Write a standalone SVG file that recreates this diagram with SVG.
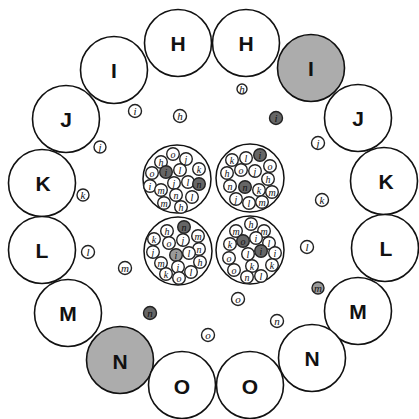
<svg xmlns="http://www.w3.org/2000/svg" width="419" height="419" viewBox="0 0 419 419">
<style>
.big{fill:#fff;stroke:#111;stroke-width:1.6}
.big.gray{fill:#acacac}
.lbl{font-family:"Liberation Sans",Arial,sans-serif;font-weight:bold;font-size:21px;text-anchor:middle;dominant-baseline:central;fill:#111}
.s circle{fill:#fff;stroke:#222;stroke-width:1.4}
.s.d circle{fill:#666}
.s.g circle{fill:#9a9a9a}
.s text{font-family:"Liberation Serif","Times New Roman",serif;font-style:italic;font-size:10px;text-anchor:middle;dominant-baseline:central;fill:#111}
.c{fill:#fff;stroke:#111;stroke-width:1.5}
.o text{font-size:11px}
</style>
<rect width="419" height="419" fill="#fff"/>
<g id="ring">
<g id="H1"><circle class="big" cx="178" cy="43" r="33.5"/><text class="lbl" x="178" y="43">H</text></g>
<g id="H2"><circle class="big" cx="246" cy="43" r="33.5"/><text class="lbl" x="246" y="43">H</text></g>
<g id="I1"><circle class="big" cx="114" cy="70" r="33.5"/><text class="lbl" x="114" y="70">I</text></g>
<g id="I2"><circle class="big gray" cx="311" cy="68" r="33.5"/><text class="lbl" x="311" y="68">I</text></g>
<g id="J1"><circle class="big" cx="66" cy="119" r="33.5"/><text class="lbl" x="66" y="119">J</text></g>
<g id="J2"><circle class="big" cx="358" cy="118" r="33.5"/><text class="lbl" x="358" y="118">J</text></g>
<g id="K1"><circle class="big" cx="42" cy="183" r="33.5"/><text class="lbl" x="43" y="183">K</text></g>
<g id="K2"><circle class="big" cx="384" cy="181" r="33.5"/><text class="lbl" x="386" y="181">K</text></g>
<g id="L1"><circle class="big" cx="42" cy="250" r="33.5"/><text class="lbl" x="42" y="250">L</text></g>
<g id="L2"><circle class="big" cx="385" cy="248" r="33.5"/><text class="lbl" x="386" y="248">L</text></g>
<g id="M1"><circle class="big" cx="68" cy="313" r="33.5"/><text class="lbl" x="68" y="313">M</text></g>
<g id="M2"><circle class="big" cx="358" cy="311" r="33.5"/><text class="lbl" x="358" y="311">M</text></g>
<g id="N1"><circle class="big gray" cx="120" cy="360" r="33.5"/><text class="lbl" x="120" y="361">N</text></g>
<g id="N2"><circle class="big" cx="312" cy="358" r="33.5"/><text class="lbl" x="312" y="358">N</text></g>
<g id="O1"><circle class="big" cx="182" cy="385" r="33.5"/><text class="lbl" x="182" y="386">O</text></g>
<g id="O2"><circle class="big" cx="250" cy="385" r="33.5"/><text class="lbl" x="250" y="386">O</text></g>
</g>
<g id="loose" class="o">
<g class="s" transform="translate(242,89)"><circle r="5"/><text>h</text></g>
<g class="s" transform="translate(135,111)"><circle r="6.5"/><text>i</text></g>
<g class="s" transform="translate(180,116)"><circle r="6.5"/><text>h</text></g>
<g class="s d" transform="translate(276,118)"><circle r="6.5"/><text>i</text></g>
<g class="s" transform="translate(100,147)"><circle r="6"/><text>j</text></g>
<g class="s" transform="translate(318,143)"><circle r="6.5"/><text>j</text></g>
<g class="s" transform="translate(83,195)"><circle r="6"/><text>k</text></g>
<g class="s" transform="translate(322,200)"><circle r="6.5"/><text>k</text></g>
<g class="s" transform="translate(88,252)"><circle r="6.5"/><text>l</text></g>
<g class="s" transform="translate(307,247)"><circle r="6.5"/><text>l</text></g>
<g class="s" transform="translate(125,268)"><circle r="6.5"/><text>m</text></g>
<g class="s g" transform="translate(318,288)"><circle r="6"/><text>m</text></g>
<g class="s d" transform="translate(150,313)"><circle r="6.5"/><text>n</text></g>
<g class="s" transform="translate(238,299)"><circle r="6.5"/><text>o</text></g>
<g class="s" transform="translate(277,321)"><circle r="6.5"/><text>n</text></g>
<g class="s" transform="translate(208,335)"><circle r="6.5"/><text>o</text></g>
</g>
<g id="clusterTL">
<circle class="c" cx="177" cy="179" r="34"/>
<g class="s" transform="translate(173,154)"><circle r="6.3"/><text>o</text></g>
<g class="s" transform="translate(161,162)"><circle r="6.3"/><text>h</text></g>
<g class="s" transform="translate(186,159)"><circle r="6.3"/><text>j</text></g>
<g class="s" transform="translate(199,169)"><circle r="6.3"/><text>k</text></g>
<g class="s" transform="translate(152,173)"><circle r="6.3"/><text>o</text></g>
<g class="s d" transform="translate(166,172)"><circle r="6.3"/><text>i</text></g>
<g class="s" transform="translate(180,170)"><circle r="6.3"/><text>l</text></g>
<g class="s" transform="translate(188,182)"><circle r="6.3"/><text>l</text></g>
<g class="s d" transform="translate(199,184)"><circle r="6.3"/><text>n</text></g>
<g class="s" transform="translate(150,186)"><circle r="6.3"/><text>i</text></g>
<g class="s" transform="translate(174,183)"><circle r="6.3"/><text>j</text></g>
<g class="s" transform="translate(161,190)"><circle r="6.3"/><text>m</text></g>
<g class="s" transform="translate(176,195)"><circle r="6.3"/><text>n</text></g>
<g class="s" transform="translate(192,197)"><circle r="6.3"/><text>l</text></g>
<g class="s" transform="translate(164,203)"><circle r="6.3"/><text>m</text></g>
<g class="s" transform="translate(181,207)"><circle r="6.3"/><text>h</text></g>
</g>
<g id="clusterTR">
<circle class="c" cx="250" cy="178" r="34"/>
<g class="s" transform="translate(232,160)"><circle r="6.3"/><text>k</text></g>
<g class="s" transform="translate(246,158)"><circle r="6.3"/><text>l</text></g>
<g class="s d" transform="translate(260,155)"><circle r="6.3"/><text>i</text></g>
<g class="s" transform="translate(270,166)"><circle r="6.3"/><text>o</text></g>
<g class="s" transform="translate(227,173)"><circle r="6.3"/><text>h</text></g>
<g class="s" transform="translate(241,170)"><circle r="6.3"/><text>o</text></g>
<g class="s" transform="translate(255,171)"><circle r="6.3"/><text>j</text></g>
<g class="s" transform="translate(268,179)"><circle r="6.3"/><text>h</text></g>
<g class="s" transform="translate(230,186)"><circle r="6.3"/><text>n</text></g>
<g class="s d" transform="translate(245,187)"><circle r="6.3"/><text>n</text></g>
<g class="s" transform="translate(259,190)"><circle r="6.3"/><text>k</text></g>
<g class="s" transform="translate(272,192)"><circle r="6.3"/><text>m</text></g>
<g class="s" transform="translate(236,199)"><circle r="6.3"/><text>j</text></g>
<g class="s" transform="translate(249,203)"><circle r="6.3"/><text>l</text></g>
<g class="s" transform="translate(262,202)"><circle r="6.3"/><text>m</text></g>
</g>
<g id="clusterBL">
<circle class="c" cx="178" cy="251" r="34"/>
<g class="s d" transform="translate(184,227)"><circle r="6.3"/><text>n</text></g>
<g class="s" transform="translate(167,231)"><circle r="6.3"/><text>h</text></g>
<g class="s" transform="translate(198,236)"><circle r="6.3"/><text>m</text></g>
<g class="s" transform="translate(154,239)"><circle r="6.3"/><text>k</text></g>
<g class="s" transform="translate(169,243)"><circle r="6.3"/><text>o</text></g>
<g class="s" transform="translate(183,240)"><circle r="6.3"/><text>j</text></g>
<g class="s" transform="translate(199,249)"><circle r="6.3"/><text>n</text></g>
<g class="s" transform="translate(153,252)"><circle r="6.3"/><text>j</text></g>
<g class="s g" transform="translate(176,255)"><circle r="6.3"/><text>i</text></g>
<g class="s" transform="translate(189,253)"><circle r="6.3"/><text>l</text></g>
<g class="s" transform="translate(200,262)"><circle r="6.3"/><text>h</text></g>
<g class="s" transform="translate(161,263)"><circle r="6.3"/><text>m</text></g>
<g class="s" transform="translate(178,267)"><circle r="6.3"/><text>i</text></g>
<g class="s" transform="translate(166,274)"><circle r="6.3"/><text>k</text></g>
<g class="s" transform="translate(191,272)"><circle r="6.3"/><text>l</text></g>
<g class="s" transform="translate(179,278)"><circle r="6.3"/><text>o</text></g>
</g>
<g id="clusterBR">
<circle class="c" cx="250" cy="250" r="34"/>
<g class="s" transform="translate(251,224)"><circle r="6.3"/><text>h</text></g>
<g class="s" transform="translate(236,231)"><circle r="6.3"/><text>m</text></g>
<g class="s" transform="translate(264,231)"><circle r="6.3"/><text>m</text></g>
<g class="s" transform="translate(230,244)"><circle r="6.3"/><text>k</text></g>
<g class="s d" transform="translate(243,241)"><circle r="6.3"/><text>o</text></g>
<g class="s" transform="translate(256,238)"><circle r="6.3"/><text>i</text></g>
<g class="s" transform="translate(269,243)"><circle r="6.3"/><text>l</text></g>
<g class="s d" transform="translate(261,251)"><circle r="6.3"/><text>i</text></g>
<g class="s" transform="translate(275,253)"><circle r="6.3"/><text>i</text></g>
<g class="s" transform="translate(248,254)"><circle r="6.3"/><text>l</text></g>
<g class="s" transform="translate(229,258)"><circle r="6.3"/><text>o</text></g>
<g class="s" transform="translate(252,266)"><circle r="6.3"/><text>k</text></g>
<g class="s" transform="translate(272,265)"><circle r="6.3"/><text>k</text></g>
<g class="s" transform="translate(234,270)"><circle r="6.3"/><text>o</text></g>
<g class="s" transform="translate(247,277)"><circle r="6.3"/><text>n</text></g>
<g class="s" transform="translate(261,276)"><circle r="6.3"/><text>l</text></g>
</g>
</svg>
